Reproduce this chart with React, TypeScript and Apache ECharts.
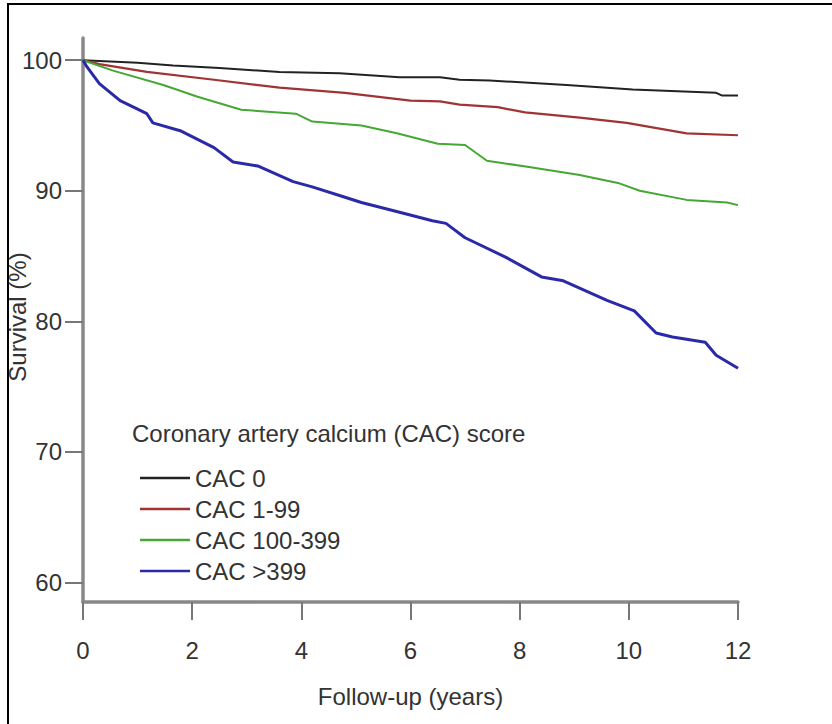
import React, { useEffect, useRef } from "react";
import * as echarts from "echarts";

const seriesNames = ["CAC 0", "CAC 1-99", "CAC 100-399", "CAC >399"];

const cac0Years = [0, 0.5, 1, 1.65, 2.5, 3.6, 4.7, 5.8, 6.54, 6.9, 7.45, 8.86, 10.07, 11.6, 11.7, 12];
const cac0Surv = [100, 99.9, 99.8, 99.6, 99.4, 99.1, 99.0, 98.7, 98.7, 98.5, 98.45, 98.1, 97.75, 97.5, 97.3, 97.3];

const cac1Years = [0, 0.3, 1.17, 2.4, 3.6, 4.8, 6.0, 6.54, 6.9, 7.6, 8.1, 9.1, 9.96, 11.06, 12];
const cac1Surv = [100, 99.7, 99.1, 98.5, 97.9, 97.5, 96.9, 96.85, 96.6, 96.4, 96.0, 95.6, 95.2, 94.4, 94.25];

const cac100Years = [0, 0.55, 1.47, 2.1, 2.9, 3.9, 4.2, 5.1, 5.75, 6.5, 7.0, 7.4, 8.2, 9.1, 9.8, 10.2, 11.06, 11.8, 12];
const cac100Surv = [100, 99.2, 98.1, 97.2, 96.2, 95.9, 95.3, 95.0, 94.4, 93.6, 93.5, 92.3, 91.8, 91.2, 90.6, 90.0, 89.3, 89.1, 88.9];

const cac400Years = [0, 0.07, 0.3, 0.68, 1.17, 1.28, 1.78, 2.4, 2.75, 3.2, 3.85, 4.2, 4.8, 5.1, 5.8, 6.4, 6.65, 7.0, 7.75, 8.4, 8.8, 9.6, 10.1, 10.5, 10.8, 11.4, 11.6, 12];
const cac400Surv = [100, 99.5, 98.2, 96.9, 95.9, 95.2, 94.6, 93.3, 92.2, 91.9, 90.7, 90.3, 89.5, 89.1, 88.35, 87.7, 87.5, 86.4, 84.9, 83.4, 83.1, 81.6, 80.8, 79.1, 78.8, 78.4, 77.4, 76.4];

const yTicks = [60, 70, 80, 90, 100];
const xAxisTitle = "Follow-up (years)";
const yAxisTitle = "Survival (%)";
const legendTitle = "Coronary artery calcium (CAC) score";

const FONT = "'Liberation Sans', Arial, Helvetica, sans-serif";

function zip(xs: number[], ys: number[]) {
  return xs.map((x, i) => [x, ys[i]]);
}

export default function App() {
  const ref = useRef<HTMLDivElement>(null);
  useEffect(() => {
    if (!ref.current) return;
    const chart = echarts.init(ref.current, undefined, { renderer: "svg" });
    const colors = ["#222222", "#a03333", "#44a833", "#2a2aa8"];
    const widths = [2, 2.2, 2, 3];
    const datasets = [
      zip(cac0Years, cac0Surv),
      zip(cac1Years, cac1Surv),
      zip(cac100Years, cac100Surv),
      zip(cac400Years, cac400Surv),
    ];
    chart.setOption({
      animation: false,
      backgroundColor: "#ffffff",
      textStyle: { fontFamily: FONT },
      grid: { left: 83, right: 94, top: 38, bottom: 122, containLabel: false },
      xAxis: {
        type: "value",
        min: 0,
        max: 12,
        interval: 2,
        name: xAxisTitle,
        nameLocation: "middle",
        nameGap: 82,
        nameTextStyle: { fontSize: 24, color: "#333", fontFamily: FONT },
        axisLine: { onZero: false, lineStyle: { color: "#888", width: 3.5 } },
        axisTick: { show: true, length: 18, lineStyle: { color: "#777", width: 2 } },
        axisLabel: { fontSize: 24, color: "#333", margin: 36, fontFamily: FONT },
        splitLine: { show: false },
      },
      yAxis: {
        type: "value",
        min: 58.5,
        max: 101.7,
        axisLine: { show: true, onZero: false, lineStyle: { color: "#888", width: 3.5 } },
        axisTick: { show: true, length: 18, customValues: yTicks, lineStyle: { color: "#777", width: 2 } },
        axisLabel: { fontSize: 24, color: "#333", margin: 21, customValues: yTicks, fontFamily: FONT },
        splitLine: { show: false },
      },
      legend: {
        show: true,
        orient: "vertical",
        left: 140,
        top: 466,
        padding: 0,
        itemWidth: 50,
        itemHeight: 2.5,
        itemGap: 7,
        icon: "rect",
        selectedMode: false,
        data: seriesNames,
        textStyle: { fontSize: 24, color: "#333", lineHeight: 24, fontFamily: FONT },
      },
      series: seriesNames.map((name, i) => ({
        name,
        type: "line",
        data: datasets[i],
        symbol: "none",
        showSymbol: false,
        lineStyle: { color: colors[i], width: widths[i] },
        itemStyle: { color: colors[i] },
        z: 2 + i,
      })),
      graphic: [
        {
          type: "text",
          x: 132,
          y: 433,
          style: {
            text: legendTitle,
            fontSize: 24,
            fontFamily: FONT,
            fill: "#333",
            align: "left",
            verticalAlign: "middle",
          },
        },
        {
          type: "text",
          x: 17,
          y: 317,
          rotation: Math.PI / 2,
          style: {
            text: yAxisTitle,
            fontSize: 24,
            fontFamily: FONT,
            fill: "#333",
            align: "center",
            verticalAlign: "middle",
          },
        },
        {
          type: "rect",
          z: 100,
          shape: { x: 8, y: 4, width: 840, height: 740 },
          style: { fill: "none", stroke: "#000", lineWidth: 2 },
        },
      ],
    });
    return () => chart.dispose();
  }, []);
  return (
    <div
      ref={ref}
      style={{ position: "fixed", left: 0, top: 0, width: 832, height: 724, background: "#fff" }}
    />
  );
}
